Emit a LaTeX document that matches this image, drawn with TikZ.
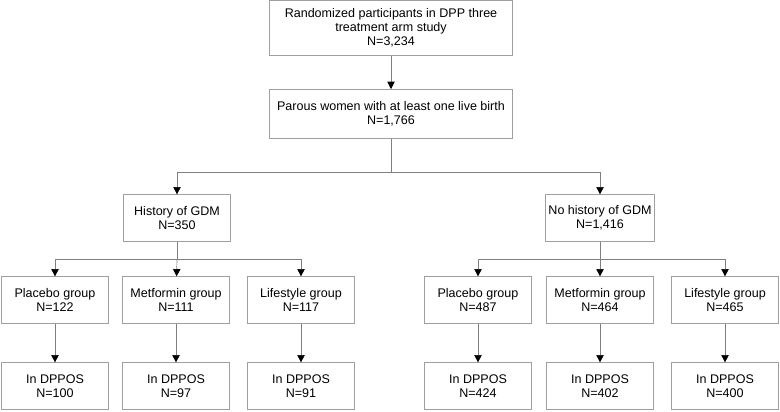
\documentclass[tikz,border=0pt]{standalone}
\usepackage{fontspec}
\setmainfont{Liberation Sans}
\usepackage{tikz}
\usetikzlibrary{arrows.meta}
\tikzset{
  box/.style = {draw = gray!75, fill = white, align = center, inner sep = 2pt,
    minimum width = 80pt, minimum height = 35pt, font = \fontsize{9.4}{10.6}\selectfont},
  arr/.style = {draw = gray, line width = .5pt, -{Triangle[length = 5.5pt, width = 5.5pt, color = black]}},
  ln/.style = {draw = gray, line width = .5pt}
}
\begin{document}
\begin{tikzpicture}[x = .75pt, y = -.75pt]
\useasboundingbox (0,0) rectangle (780,411);
\node[box, minimum width = 182pt, minimum height = 41pt] (rand) at (391,28) {Randomized participants in DPP three\\treatment arm study\\N=3,234};
\node[box, minimum width = 182pt, minimum height = 37pt] (par) at (391,114) {Parous women with at least one live birth\\N=1,766};
\draw[arr] (rand) -- (par);
\node[box] (gdm) at (177,218) {History of GDM\\N=350};
\node[box, minimum width = 82pt] (nogdm) at (600,218) {No history of GDM\\N=1,416};
\coordinate (split) at (391,172);
\draw[ln] (par) -- (split);
\draw[arr] (split) -| (gdm);
\draw[arr] (split) -| (nogdm);

\node[box] (pla) at (55,300) {Placebo group\\N=122};
\node[box] (met) at (176,300) {Metformin group\\N=111};
\node[box] (lif) at (301,300) {Lifestyle group\\N=117};
\coordinate (gsplit) at (177,259);
\draw[ln] (gdm) -- (gsplit);
\draw[arr] (gsplit) -| (pla);
\draw[arr] (gsplit) -- (met);
\draw[arr] (gsplit) -| (lif);

\node[box] (npla) at (478,300) {Placebo group\\N=487};
\node[box] (nmet) at (600,300) {Metformin group\\N=464};
\node[box] (nlif) at (725,300) {Lifestyle group\\N=465};
\coordinate (nsplit) at (600,259);
\draw[ln] (nogdm) -- (nsplit);
\draw[arr] (nsplit) -| (npla);
\draw[arr] (nsplit) -- (nmet);
\draw[arr] (nsplit) -| (nlif);

\node[box] (pla2) at (55,386) {In DPPOS\\N=100};
\node[box] (met2) at (176,386) {In DPPOS\\N=97};
\node[box] (lif2) at (301,386) {In DPPOS\\N=91};
\node[box] (npla2) at (478,386) {In DPPOS\\N=424};
\node[box] (nmet2) at (600,386) {In DPPOS\\N=402};
\node[box] (nlif2) at (725,386) {In DPPOS\\N=400};
\draw[arr] (pla) -- (pla2);
\draw[arr] (met) -- (met2);
\draw[arr] (lif) -- (lif2);
\draw[arr] (npla) -- (npla2);
\draw[arr] (nmet) -- (nmet2);
\draw[arr] (nlif) -- (nlif2);
\end{tikzpicture}
\end{document}
